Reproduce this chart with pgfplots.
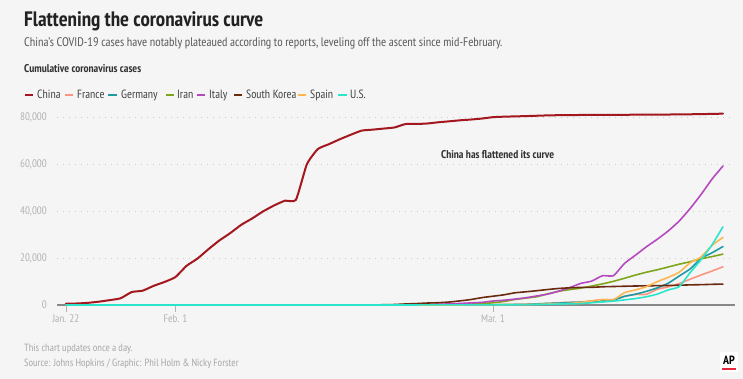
\documentclass[border=0pt]{standalone}
\usepackage{fontspec}
\setmainfont{PT Sans Narrow}
\usepackage{pgfplots}
\pgfplotsset{compat=1.18}
\usepackage{pgfplotstable}

\definecolor{bg}{HTML}{F5F5F5}
\definecolor{titlec}{HTML}{222222}
\definecolor{subc}{HTML}{5A5A5A}
\definecolor{headc}{HTML}{333333}
\definecolor{legc}{HTML}{444444}
\definecolor{tickc}{HTML}{B3B3B3}
\definecolor{gridc}{HTML}{C8C8C8}
\definecolor{basec}{HTML}{888888}
\definecolor{footc}{HTML}{A8A8A8}
\definecolor{cChina}{HTML}{A3171E}
\definecolor{cFrance}{HTML}{FB9580}
\definecolor{cGermany}{HTML}{1E9AA4}
\definecolor{cIran}{HTML}{7FA51C}
\definecolor{cItaly}{HTML}{B648C0}
\definecolor{cKorea}{HTML}{6B2A10}
\definecolor{cSpain}{HTML}{FDB650}
\definecolor{cUS}{HTML}{2AE5CC}
\definecolor{apred}{HTML}{E8253D}

\pgfplotstableread{
d china france germany iran italy korea spain us
0 548 0 0 0 0 1 0 1
1 643 0 0 0 0 1 0 1
2 920 2 0 0 0 2 0 2
3 1406 3 0 0 0 2 0 2
4 2075 3 0 0 0 3 0 5
5 2877 3 1 0 0 4 0 5
6 5509 4 4 0 0 4 0 5
7 6087 5 4 0 0 4 0 5
8 8141 5 4 0 0 4 0 5
9 9802 5 5 0 2 11 0 7
10 11891 6 8 0 2 12 1 8
11 16630 6 10 0 2 15 1 8
12 19716 6 12 0 2 15 1 11
13 23707 6 12 0 2 16 1 11
14 27440 6 12 0 2 19 1 12
15 30587 6 12 0 2 23 1 12
16 34110 6 13 0 3 24 1 12
17 36814 11 13 0 3 24 1 12
18 39829 11 14 0 3 25 2 12
19 42354 11 14 0 3 27 2 12
20 44386 11 16 0 3 28 2 13
21 44759 11 16 0 3 28 2 13
22 59895 11 16 0 3 28 2 15
23 66358 11 16 0 3 28 2 15
24 68413 12 16 0 3 28 2 15
25 70513 12 16 0 3 29 2 15
26 72434 12 16 0 3 30 2 15
27 74211 12 16 0 3 31 2 15
28 74619 12 16 2 3 31 2 15
29 75077 12 16 5 3 104 2 15
30 75550 12 16 18 20 204 2 15
31 77001 12 16 28 62 433 2 15
32 77022 12 16 43 155 602 2 15
33 77241 12 16 61 229 833 2 51
34 77754 14 17 95 322 977 6 51
35 78166 18 27 139 453 1261 13 57
36 78600 38 46 245 655 1766 15 58
37 78928 57 48 388 888 2337 32 60
38 79356 100 79 593 1128 3150 45 68
39 79932 130 130 978 1694 3736 84 74
40 80136 191 159 1501 2036 4335 120 98
41 80261 204 196 2336 2502 5186 165 118
42 80386 288 262 2922 3089 5621 222 149
43 80537 380 482 3513 3858 6088 259 217
44 80690 656 670 4747 4636 6593 400 262
45 80770 959 799 5823 5883 7041 500 402
46 80823 1136 1040 6566 7375 7314 673 518
47 80860 1219 1176 7161 9172 7478 1073 583
48 80887 1794 1457 8042 10149 7513 1695 959
49 80921 2293 1908 9000 12462 7755 2277 1281
50 80932 2293 2078 10075 12462 7869 2277 1663
51 80945 3681 3675 11364 17660 7979 5232 2179
52 80977 4496 4585 12729 21157 8086 6391 2727
53 81003 4532 5795 13938 24747 8162 7798 3499
54 81033 6683 7272 14991 27980 8236 9942 4632
55 81058 7715 9257 16169 31506 8320 11748 6421
56 81102 9124 12327 17361 35713 8413 13910 7783
57 81156 10970 15320 18407 41035 8565 17963 13747
58 81250 12758 19848 19644 47021 8652 20410 19273
59 81305 14463 22213 20610 53578 8799 25374 25600
60 81435 16243 24873 21638 59138 8897 28768 33276
}\covid

\begin{document}
\begin{tikzpicture}
\useasboundingbox (0,0) rectangle (743bp,379bp);
\fill[bg] (0,0) rectangle (743bp,379bp);

% titles
\node[anchor=base west, inner sep=0, text=titlec, font=\bfseries\fontsize{21}{24}\selectfont] at (24bp,352bp) {Flattening the coronavirus curve};
\node[anchor=base west, inner sep=0, text=subc, font=\fontsize{12.5}{15}\selectfont] at (24bp,332bp) {China's COVID-19 cases have notably plateaued according to reports, leveling off the ascent since mid-February.};
\node[anchor=base west, inner sep=0, text=headc, font=\bfseries\fontsize{11.3}{14}\selectfont] at (24bp,306bp) {Cumulative coronavirus cases};

% legend
\foreach \c/\a/\b/\t/\n in {cChina/25/33/37/China, cFrance/65/73/77/France, cGermany/108/117/121/Germany, cIran/166/174/177/Iran, cItaly/197/205/209/Italy, cKorea/234/242/246/South Korea, cSpain/298/306/310/Spain, cUS/338/347/350/U.S.}{
  \draw[\c, line width=1.8bp] (\a bp,284.3bp) -- (\b bp,284.3bp);
  \node[anchor=base west, inner sep=0, text=legc, font=\fontsize{12}{14}\selectfont] at (\t bp,280bp) {\n};
}

\begin{axis}[
  at={(57bp,74bp)}, anchor=south west,
  scale only axis, width=678bp, height=188bp,
  xmin=-0.82, xmax=61.1, ymin=0, ymax=80000,
  axis line style={draw=none},
  xtick={0,10,39}, xticklabels={Jan. 22, Feb. 1, Mar. 1},
  xtick pos=bottom, tick align=outside, major tick length=7bp,
  xtick style={draw=tickc, line width=0.9bp},
  ytick={0,20000,40000,60000,80000},
  ytick style={draw=none},
  scaled y ticks=false,
  ymajorgrids,
  grid style={draw=gridc, line width=1bp, dash pattern=on 1bp off 5bp},
  /pgf/number format/.cd, 1000 sep={,}, assume math mode=true, /pgfplots/.cd,
  yticklabel style={font=\fontsize{11}{12}\selectfont, text=tickc, inner sep=0pt, xshift=-3bp},
  xticklabel style={font=\fontsize{11}{12}\selectfont, text=tickc, inner sep=0pt, yshift=-2bp},
  clip=false,
  every axis plot/.append style={line join=round, line cap=round, smooth, tension=0.3},
]
\draw[basec, line width=2bp] (axis cs:-0.82,0) -- (axis cs:61.1,0);
\addplot[cChina, line width=2bp] table[x=d, y=china] {\covid};
\addplot[cFrance, line width=1.6bp] table[x=d, y=france] {\covid};
\addplot[cGermany, line width=1.6bp] table[x=d, y=germany] {\covid};
\addplot[cIran, line width=1.6bp] table[x=d, y=iran] {\covid};
\addplot[cItaly, line width=1.6bp] table[x=d, y=italy] {\covid};
\addplot[cKorea, line width=1.6bp] table[x=d, y=korea] {\covid};
\addplot[cSpain, line width=1.6bp] table[x=d, y=spain] {\covid};
\addplot[cUS, line width=1.6bp] table[x=d, y=us] {\covid};
\end{axis}

% annotation
\node[anchor=base west, inner sep=0, text=headc, font=\bfseries\fontsize{11.3}{14}\selectfont] at (441bp,220bp) {China has flattened its curve};

% footer
\node[anchor=base west, inner sep=0, text=footc, font=\fontsize{10.5}{13}\selectfont] at (24bp,28bp) {This chart updates once a day.};
\node[anchor=base west, inner sep=0, text=footc, font=\fontsize{10.5}{13}\selectfont] at (24bp,13bp) {Source: Johns Hopkins / Graphic: Phil Holm \& Nicky Forster};

% AP logo
\fill[white] (720bp,7bp) rectangle (738bp,27bp);
\node[inner sep=0, text=black, font=\bfseries\fontsize{12}{12}\selectfont] at (729bp,18.5bp) {AP};
\draw[apred, line width=1.5bp] (722bp,10bp) -- (736bp,10bp);
\end{tikzpicture}
\end{document}
